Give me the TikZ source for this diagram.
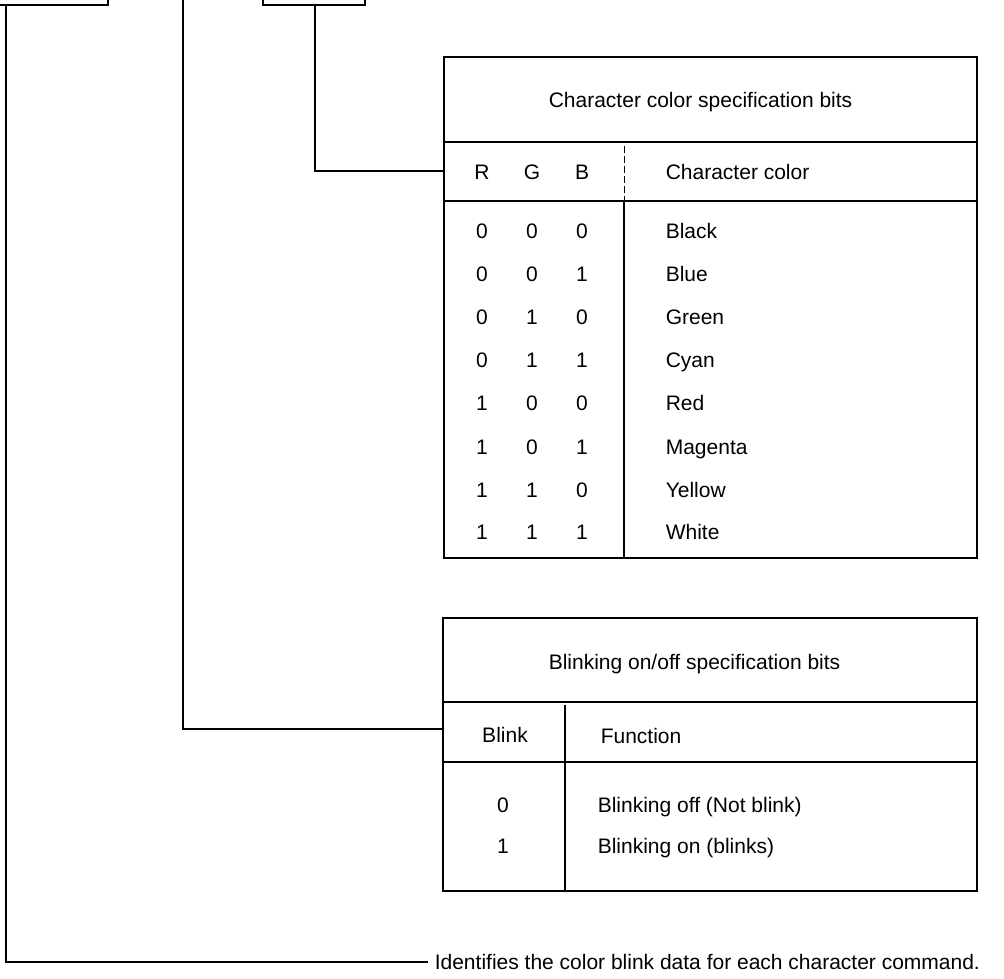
\documentclass[tikz,border=0pt]{standalone}
\usepackage{fontspec}
\setmainfont{Liberation Sans}
\begin{document}
\begin{tikzpicture}[x=1pt,y=-1pt,line width=1.6pt,
  txt/.style={inner sep=0pt,text height=15pt,text depth=0pt,font=\fontsize{21}{24}\selectfont},
  lbl/.style={txt,anchor=west},
  ctr/.style={txt,anchor=center}]
\useasboundingbox (0,0) rectangle (1004,979);
% top boxes (cut off at top)
\draw (0,5) -- (108,5) -- (108,0);
\coordinate (boxA) at (6,5);
\draw (263,0) -- (263,5) -- (365,5) -- (365,0);
\coordinate (boxB) at (315,5);
\coordinate (lineC) at (183,0);
% table 1
\draw (444,57) rectangle (977,558);
\draw (444,142) -- (977,142);
\draw (444,201) -- (977,201);
\draw[line width=0.9pt,dash pattern=on 7pt off 3pt] (624,146) -- (624,201);
\draw (624,201) -- (624,558);
\coordinate (t1) at (444,171);
\node[lbl] (t1title) at (548,100) {Character color specification bits};
\node[ctr] (hR) at (482,172) {R};
\node[ctr] (hG) at (532,172) {G};
\node[ctr] (hB) at (582,172) {B};
\node[lbl] (hC) at (665,172) {Character color};
\foreach \y/\r/\g/\b/\c in {231/0/0/0/Black,274/0/0/1/Blue,317/0/1/0/Green,360/0/1/1/Cyan,403/1/0/0/Red,447/1/0/1/Magenta,490/1/1/0/Yellow,532/1/1/1/White}{
  \node[ctr] at (482,\y) {\r};
  \node[ctr] at (532,\y) {\g};
  \node[ctr] at (582,\y) {\b};
  \node[lbl] at (665,\y) {\c};
}
% table 2
\draw (443,618) rectangle (977,891);
\draw (443,702) -- (977,702);
\draw (443,762) -- (977,762);
\draw (565,705) -- (565,891);
\coordinate (t2) at (443,729);
\node[lbl] (t2title) at (548,662) {Blinking on/off specification bits};
\node[ctr] (hBl) at (505,735) {Blink};
\node[lbl] (hF) at (600,736) {Function};
\node[ctr] (v0) at (503,805) {0};
\node[lbl] (f0) at (597,805) {Blinking off (Not blink)};
\node[ctr] (v1) at (503,846) {1};
\node[lbl] (f1) at (597,846) {Blinking on (blinks)};
% bottom note
\node[lbl,inner xsep=6pt] (note) at (428,962) {Identifies the color blink data for each character command.};
% connectors
\draw (boxB) |- (t1);
\draw (lineC) |- (t2);
\draw (boxA) |- (note.west);
\end{tikzpicture}
\end{document}
